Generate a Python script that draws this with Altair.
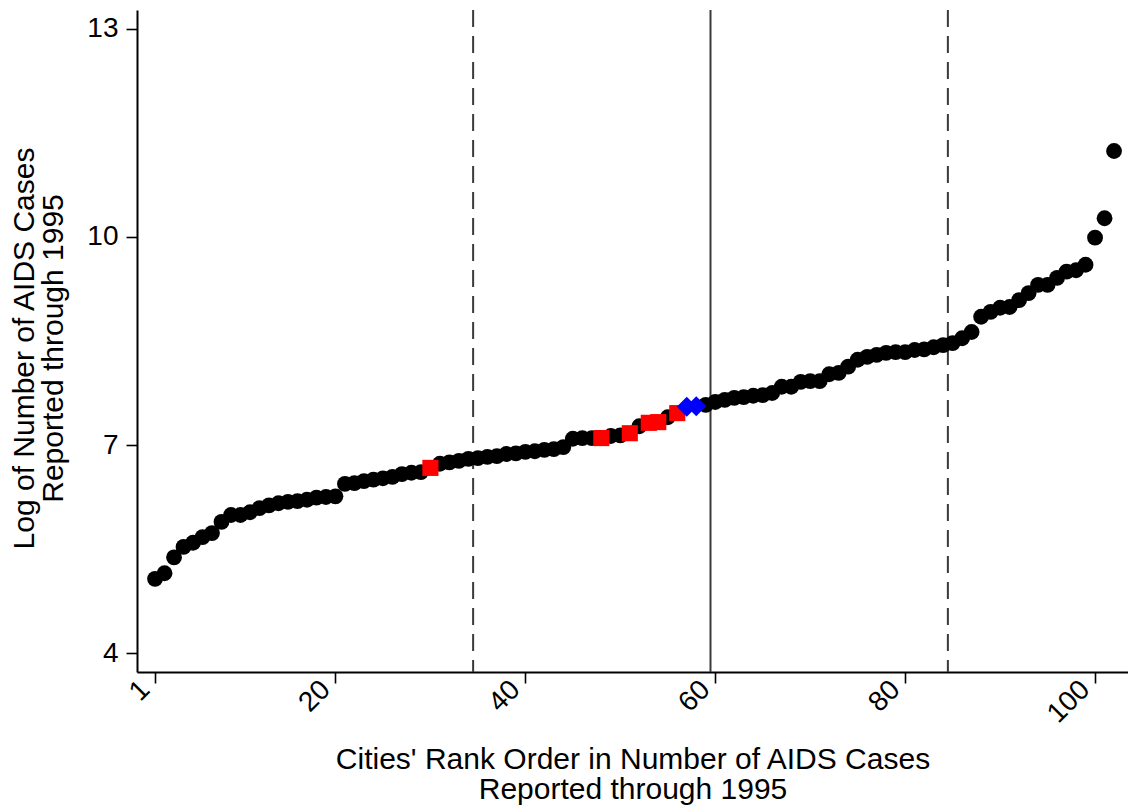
import altair as alt
import pandas as pd

# ---- data ----
log_cases = [
    5.07, 5.15, 5.38, 5.53, 5.59, 5.67, 5.73, 5.89, 5.99, 5.99,
    6.03, 6.09, 6.13, 6.16, 6.18, 6.19, 6.21, 6.24, 6.25, 6.26,
    6.44, 6.45, 6.48, 6.50, 6.52, 6.54, 6.58, 6.60, 6.61, 6.67,
    6.73, 6.75, 6.77, 6.80, 6.81, 6.83, 6.84, 6.87, 6.88, 6.90,
    6.91, 6.93, 6.94, 6.97, 7.09, 7.10, 7.10, 7.10, 7.13, 7.14,
    7.17, 7.27, 7.32, 7.33, 7.40, 7.46, 7.55, 7.56, 7.58, 7.62,
    7.65, 7.68, 7.69, 7.71, 7.72, 7.75, 7.84, 7.84, 7.91, 7.92,
    7.92, 8.02, 8.04, 8.13, 8.23, 8.27, 8.30, 8.33, 8.34, 8.34,
    8.37, 8.38, 8.41, 8.44, 8.47, 8.54, 8.63, 8.85, 8.92, 8.98,
    8.99, 9.09, 9.19, 9.31, 9.31, 9.41, 9.50, 9.52, 9.60, 9.99,
    10.27, 11.24,
]
ranks = list(range(1, len(log_cases) + 1))
red_ranks = [30, 48, 51, 53, 54, 56]
blue_ranks = [57, 58]

dashed_lines = [34.5, 84.5]
solid_lines = [59.5]

x_ticks = [1, 20, 40, 60, 80, 100]
y_ticks = [4, 7, 10, 13]

x_title = ["Cities' Rank Order in Number of AIDS Cases", "Reported through 1995"]
y_title = ["Log of Number of AIDS Cases", "Reported through 1995"]

# ---- tables ----
groups = ["red" if r in red_ranks else ("blue" if r in blue_ranks else "black") for r in ranks]
df = pd.DataFrame({"rank": ranks, "value": log_cases, "group": groups})
df_black = df[df.group == "black"]
df_red = df[df.group == "red"]
df_blue = df[df.group == "blue"]
df_dash = pd.DataFrame({"pos": dashed_lines})
df_solid = pd.DataFrame({"pos": solid_lines})

FONT = "Liberation Sans"

xscale = alt.Scale(domain=[-0.9, 103.47], nice=False, zero=False)
yscale = alt.Scale(domain=[3.726, 13.274], nice=False, zero=False)

xaxis = alt.Axis(
    values=x_ticks, title=x_title, labelAngle=-45, labelAlign="right",
    labelBaseline="bottom", labelPadding=12, tickSize=11, grid=False,
    titleY=96, titleBaseline="alphabetic", titleLineHeight=30,
)
yaxis = alt.Axis(
    values=y_ticks, title=y_title, tickSize=11, labelPadding=8, grid=False,
    titleAngle=-90, titleX=-104, titleY=338, titleAlign="center",
    titleBaseline="alphabetic", titleLineHeight=29,
)

base_x = alt.X("rank:Q", scale=xscale, axis=xaxis)
base_y = alt.Y("value:Q", scale=yscale, axis=yaxis)

dash_rules = alt.Chart(df_dash).mark_rule(
    color="#3a3a3a", strokeWidth=2, strokeDash=[17, 9]
).encode(x=alt.X("pos:Q", scale=xscale, axis=xaxis))

solid_rules = alt.Chart(df_solid).mark_rule(
    color="#3a3a3a", strokeWidth=2
).encode(x=alt.X("pos:Q", scale=xscale, axis=xaxis))

black_pts = alt.Chart(df_black).mark_point(
    shape="circle", filled=True, color="black", size=250, opacity=1
).encode(x=base_x, y=base_y)

red_pts = alt.Chart(df_red).mark_point(
    shape="square", filled=True, color="#ff0000", size=260, opacity=1
).encode(x=base_x, y=base_y)

blue_pts = alt.Chart(df_blue).mark_point(
    shape="diamond", filled=True, color="#0000ff", size=400, opacity=1
).encode(x=base_x, y=base_y)

chart = alt.layer(dash_rules, solid_rules, black_pts, red_pts, blue_pts).properties(
    width=991, height=662,
    autosize=alt.AutoSizeParams(type="none"),
    padding={"left": 137, "top": 10, "right": 0, "bottom": 137},
    background="white",
).configure_view(stroke=None).configure_axis(
    labelFont=FONT, titleFont=FONT, labelFontSize=28, titleFontSize=30,
    titleFontWeight="normal", labelColor="black", titleColor="black",
    domainColor="black", domainWidth=2, tickColor="black", tickWidth=1.6,
)

chart.save("out.html", embed_options={"renderer": "svg", "actions": False})
